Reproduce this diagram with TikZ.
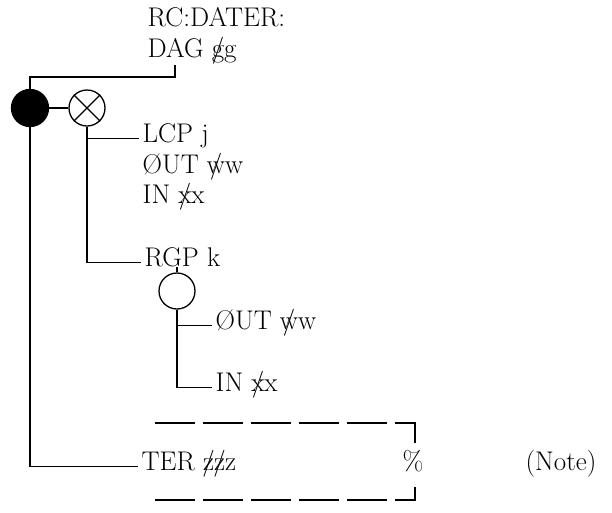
\documentclass[tikz,border=0pt]{standalone}
\usetikzlibrary{positioning}
\newcommand{\strk}[1]{\ooalign{#1\cr\hidewidth/\hidewidth\cr}}

\begin{document}
\begin{tikzpicture}[
  x=1pt, y=-1pt,
  font=\fontsize{27}{31}\selectfont,
  line width=1.3pt,
  lbl/.style={anchor=base west, inner xsep=3pt, inner ysep=0pt,
    text height=1.5ex, text depth=0pt},
  dot/.style={circle, draw, fill=black, minimum size=37pt, inner sep=0pt},
  ring/.style={circle, draw, minimum size=36pt, inner sep=0pt},
  gap/.style={dash pattern=on 40pt off 8pt},
]
\useasboundingbox (0,0) rectangle (612,512);
% header
\node[lbl] (dater) at (144,26) {RC:DATER:};
\node[lbl] (dag) at (144,57) {DAG \strk{g}g};
\coordinate (dagtap) at (175,65);
% junctions
\node[dot] (root) at (30,108) {};
\node[ring] (cross) at (87,108) {};
\draw (cross.45) -- (cross.225) (cross.135) -- (cross.315);
\node[ring] (rgc) at (177,291) {};
% labels
\node[lbl] (lcp) at (139,142) {LCP j};
\node[lbl] (lcpout) at (139,173) {\O UT \strk{w}w};
\node[lbl] (lcpin) at (139,203) {IN \strk{x}x};
\node[lbl] (rgp) at (141,266) {RGP k};
\node[lbl] (rgpout) at (212,329) {\O UT \strk{w}w};
\node[lbl] (rgpin) at (212,391) {IN \strk{x}x};
\node[lbl] (ter) at (138,470) {TER \strk{z}\strk{z}z};
\node[lbl] (pct) at (399,470) {\%};
\node[lbl] (note) at (522,470) {(Note)};
% connectors
\draw (root.north) |- ([yshift=-12pt]dagtap) -- (dagtap);
\draw (root) -- (cross);
\draw (cross.south) |- (lcp.west);
\draw (cross.south) |- (rgp.west);
\draw (rgc.north) -- (rgc.north |- rgp.south);
\draw (rgc.south) |- (rgpout.west);
\draw (rgc.south) |- (rgpin.west);
\draw (root.south) |- (ter.west);
% dashed bracket
\draw[gap] (155,423) -- (415,423) -- (415,443);
\draw[gap] (155,500) -- (415,500) -- (415,487);
\end{tikzpicture}
\end{document}
